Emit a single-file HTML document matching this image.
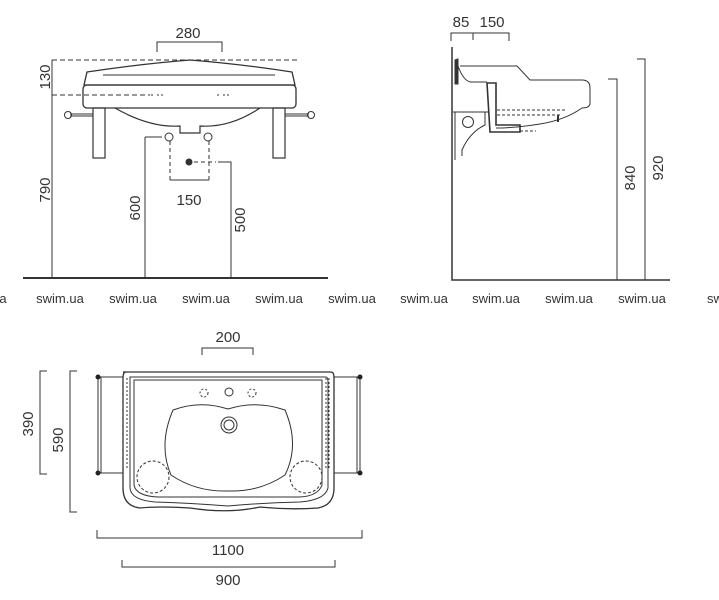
<!DOCTYPE html>
<html><head><meta charset="utf-8"><style>
html,body{margin:0;padding:0;background:#fff;}
svg{display:block}
text{font-family:"Liberation Sans",sans-serif;fill:#333;}
</style></head><body>
<svg width="719" height="600" viewBox="0 0 719 600" xmlns="http://www.w3.org/2000/svg">
<g fill="none" stroke="#333" stroke-width="1">
<!-- FRONT VIEW -->
<path d="M157 52 V42 H222 V52"/>
<path d="M52 60 H300" stroke-dasharray="5,3"/>
<path d="M52 95 H150" stroke-dasharray="5,3"/>
<path d="M52 60 V278"/>
<path d="M87 72 Q140 64 190 60 Q240 64 292 72 L295 85 H84 Z" stroke-width="1.3"/>
<path d="M103 75 H275" />
<rect x="83" y="85" width="213" height="23" rx="4" stroke-width="1.3"/>
<path d="M115 108 Q150 128 180 126 L180 133 H200 V126 Q230 128 260 108" stroke-width="1.2"/>
<rect x="93" y="108" width="12" height="50" stroke-width="1.2"/>
<rect x="273" y="108" width="12" height="50" stroke-width="1.2"/>
<path d="M70 114 H93 M70 116 H93 M285 114 H309 M285 116 H309"/>
<circle cx="68" cy="115" r="3.5"/><circle cx="311" cy="115" r="3.5"/>
<circle cx="169" cy="137" r="4"/><circle cx="208" cy="137" r="4"/>
<circle cx="189" cy="162" r="3" fill="#333"/>
<path d="M157 95 h6 M151 95 h4 M223 95 h6 M217 95 h4" stroke-dasharray="2,2"/>
<path d="M170 141 V180 M209 141 V180 M194 162 H216" stroke-dasharray="4,3"/>
<path d="M170 180 H209 M145 137 H162 M145 137 V278 M218 162 H231 V278"/>
<path d="M23 278 H328" stroke-width="2"/>
<!-- SIDE VIEW -->
<path d="M451 41 V33 H509 V41 M473 33 V40"/>
<path d="M452 47 V280 H670" stroke-width="1.5"/>
<path d="M608 79 H617 V280 M637 59 H645 V280"/>
<path d="M455 60 L458 59 V84 H455 Z" fill="#333"/>
<path d="M460 66 H517 L530 80 H582 Q590 80 590 88 V103 Q590 108 582 108 Q565 120 540 124 Q515 128 496 128"/>
<path d="M458 66 Q463 80 470 82 H487"/>
<path d="M487 83 H496 V125 H520 V132 H490 Z" stroke-width="1.6"/>
<path d="M453 112 H488"/>
<path d="M455 112 H485 V125 Q470 132 462 150 V156 M455 112 V160"/>
<circle cx="468" cy="122" r="5.5"/>
<path d="M497 110 H566 M497 115 H562 M520 131 H536" stroke-dasharray="3,2"/>
<path d="M558 115 V122" stroke-width="2"/>
<!-- TOP VIEW -->
<path d="M202 355 V348 H253 V355"/>
<path d="M47 371 H40 V474 H47"/>
<path d="M77 371 H70 V512 H77"/>
<path d="M123 372 H331 Q334 372 334 378 V488 Q334 505 318 508 Q290 510 260 507 Q228 514 190 508 Q160 506 140 508 Q123 506 123 488 V378 Q123 372 126 372 Z" stroke-width="1.3"/>
<path d="M130 377 H326 Q328 377 328 382 V488 Q325 500 300 502 Q260 503 228 506 Q190 503 155 502 Q131 500 130 488 Z"/>
<path d="M134 380 H322 V485 Q318 496 300 497 H158 Q136 496 134 485 Z"/>
<path d="M127 378 V470 M130 378 V470 M326 378 V470 M329 378 V470" stroke-dasharray="2,2"/>
<path d="M173 410 Q200 400 228 409 Q256 400 285 410 Q300 445 285 475 Q260 492 228 491 Q196 492 171 475 Q158 445 173 410 Z"/>
<circle cx="229" cy="425" r="8"/><circle cx="229" cy="425" r="5"/>
<circle cx="229" cy="392" r="4"/>
<circle cx="204" cy="393" r="4" stroke-dasharray="2,2"/><circle cx="252" cy="393" r="4" stroke-dasharray="2,2"/>
<circle cx="153" cy="477" r="16" stroke-dasharray="3,2"/><circle cx="306" cy="477" r="16" stroke-dasharray="3,2"/>
<path d="M98 377 H123 M98 473 H123 M98 377 V473 M101 377 V473 M334 377 H360 M334 473 H360 M357 377 V473 M360 377 V473"/>
<path d="M97 530 V538 H362 V530 M122 560 V567 H335 V560"/>
</g>
<g fill="#222"><circle cx="98" cy="377" r="2.5"/><circle cx="98" cy="473" r="2.5"/><circle cx="360" cy="377" r="2.5"/><circle cx="360" cy="473" r="2.5"/></g>
<g font-size="15" text-anchor="middle">
<text x="188" y="38">280</text>
<text x="189" y="205">150</text>
<text x="461" y="27">85</text>
<text x="492" y="27">150</text>
<text x="228" y="342">200</text>
<text x="228" y="555">1100</text>
<text x="228" y="585">900</text>
<text transform="translate(50,77) rotate(-90)">130</text>
<text transform="translate(50,190) rotate(-90)">790</text>
<text transform="translate(140,208) rotate(-90)">600</text>
<text transform="translate(245,220) rotate(-90)">500</text>
<text transform="translate(635,178) rotate(-90)">840</text>
<text transform="translate(663,168) rotate(-90)">920</text>
<text transform="translate(33,424) rotate(-90)">390</text>
<text transform="translate(63,440) rotate(-90)">590</text>
</g>
<g font-size="13" fill="#555" text-anchor="middle" style="fill:#555">
<text x="3" y="303">a</text>
<text x="60" y="303">swim.ua</text>
<text x="133" y="303">swim.ua</text>
<text x="206" y="303">swim.ua</text>
<text x="279" y="303">swim.ua</text>
<text x="352" y="303">swim.ua</text>
<text x="424" y="303">swim.ua</text>
<text x="496" y="303">swim.ua</text>
<text x="569" y="303">swim.ua</text>
<text x="642" y="303">swim.ua</text>
<text x="715" y="303">sw</text>
</g>
</svg>
</body></html>
